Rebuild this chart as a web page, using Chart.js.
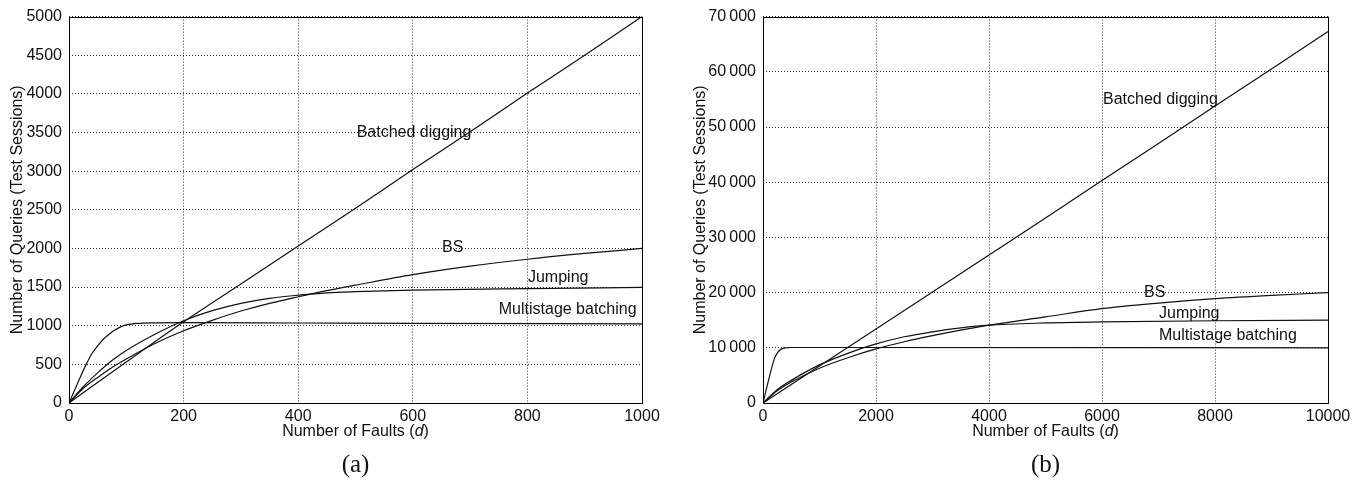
<!DOCTYPE html>
<html>
<head>
<meta charset="utf-8">
<script src="https://cdn.jsdelivr.net/npm/chart.js@4"></script>
<style>
  html, body { margin: 0; padding: 0; background: #fff; }
  #wrap { position: relative; width: 1366px; height: 480px; overflow: hidden; }
  canvas { position: absolute; top: 0; }
</style>
</head>
<body>
<div id="wrap">
  <canvas id="chartA" width="683" height="480" style="left:0"></canvas>
  <canvas id="chartB" width="683" height="480" style="left:683px"></canvas>
</div>
<script>
// ---------- Panel (a) data ----------
const aBatchedX = [0, 100, 200, 300, 400, 500, 600, 700, 800, 900, 1000];
const aBatchedY = [0, 530, 1050, 1540, 2030, 2520, 3020, 3510, 4010, 4500, 5000];
const aBSX = [0, 25, 50, 75, 100, 150, 200, 250, 300, 350, 400, 450, 500, 600, 700, 800, 900, 1000];
const aBSY = [0, 190, 330, 460, 570, 770, 935, 1070, 1190, 1290, 1375, 1455, 1525, 1660, 1770, 1860, 1935, 2000];
const aJumpX = [0, 25, 50, 75, 100, 150, 200, 250, 300, 350, 400, 450, 500, 600, 800, 1000];
const aJumpY = [0, 210, 390, 550, 680, 890, 1065, 1195, 1290, 1355, 1395, 1425, 1440, 1460, 1480, 1495];
const aMultiX = [0, 10, 20, 30, 40, 50, 60, 70, 80, 90, 100, 120, 150, 200, 400, 600, 1000];
const aMultiY = [0, 170, 340, 500, 640, 740, 825, 890, 945, 985, 1010, 1030, 1038, 1040, 1035, 1030, 1025];
const aXTicks = [0, 200, 400, 600, 800, 1000];
const aYTicks = [0, 500, 1000, 1500, 2000, 2500, 3000, 3500, 4000, 4500, 5000];

// ---------- Panel (b) data ----------
const bBatchedX = [0, 1000, 2000, 3000, 4000, 5000, 6000, 7000, 8000, 9000, 10000];
const bBatchedY = [0, 6700, 13400, 20100, 26800, 33500, 40300, 47000, 53800, 60500, 67300];
const bBSX = [0, 250, 500, 1000, 1500, 2000, 2500, 3000, 3500, 4000, 5000, 6000, 7000, 8000, 9000, 10000];
const bBSY = [0, 2200, 3800, 6300, 8200, 9800, 11100, 12200, 13200, 14100, 15600, 17100, 18100, 18900, 19500, 20000];
const bJumpX = [0, 250, 500, 1000, 1500, 2000, 2500, 3000, 3500, 4000, 5000, 6000, 8000, 10000];
const bJumpY = [0, 2400, 4100, 6900, 9000, 10700, 12000, 12900, 13600, 14100, 14500, 14700, 14900, 15000];
const bMultiX = [0, 100, 200, 250, 300, 350, 400, 500, 1000, 10000];
const bMultiY = [0, 4200, 8000, 9000, 9600, 9900, 10000, 10050, 10050, 10000];
const bXTicks = [0, 2000, 4000, 6000, 8000, 10000];
const bYTicks = [0, 10000, 20000, 30000, 40000, 50000, 60000, 70000];

const seriesNames = ['Batched digging', 'BS', 'Jumping', 'Multistage batching'];

function pts(xs, ys) { return xs.map((x, i) => ({ x: x, y: ys[i] })); }

const FONT = '"Liberation Sans", Arial, Helvetica, sans-serif';
const SERIF = '"Liberation Serif", "Times New Roman", serif';
const INK = '#111';

const panelPlugin = {
  id: 'panelDecor',
  afterDraw(chart, args, opts) {
    const ctx = chart.ctx;
    const a = chart.chartArea;
    const xs = chart.scales.x, ys = chart.scales.y;
    ctx.save();
    // frame
    ctx.strokeStyle = '#000';
    ctx.lineWidth = 1;
    ctx.setLineDash([]);
    ctx.strokeRect(Math.round(a.left) + 0.5, Math.round(a.top) + 0.5,
                   Math.round(a.right - a.left), Math.round(a.bottom - a.top));
    // curve labels
    ctx.fillStyle = INK;
    ctx.font = '16px ' + FONT;
    ctx.textAlign = 'left';
    ctx.textBaseline = 'middle';
    opts.labels.forEach(l => {
      ctx.fillText(l.text, xs.getPixelForValue(l.x), ys.getPixelForValue(l.y));
    });
    // x-axis title with italic d
    const cx = (a.left + a.right) / 2;
    const ty = opts.xTitleY;
    const p1 = 'Number of Faults (', p2 = 'd', p3 = ')';
    ctx.font = '16px ' + FONT;
    const w1 = ctx.measureText(p1).width, w3 = ctx.measureText(p3).width;
    ctx.font = 'italic 16px ' + FONT;
    const w2 = ctx.measureText(p2).width;
    let x0 = cx - (w1 + w2 + w3) / 2;
    ctx.font = '16px ' + FONT;
    ctx.fillText(p1, x0, ty);
    ctx.font = 'italic 16px ' + FONT;
    ctx.fillText(p2, x0 + w1, ty);
    ctx.font = '16px ' + FONT;
    ctx.fillText(p3, x0 + w1 + w2, ty);
    // caption
    ctx.font = '25px ' + SERIF;
    ctx.textAlign = 'center';
    ctx.fillText(opts.caption, cx, opts.captionY);
    ctx.restore();
  }
};

function makePanel(id, cfg) {
  const datasets = cfg.series.map((s, i) => ({
    label: seriesNames[i],
    data: pts(s[0], s[1]),
    showLine: true,
    borderColor: INK,
    borderWidth: 1.2,
    pointRadius: 0,
    fill: false,
    cubicInterpolationMode: 'monotone'
  }));
  new Chart(document.getElementById(id), {
    type: 'scatter',
    data: { datasets },
    plugins: [panelPlugin],
    options: {
      responsive: false,
      devicePixelRatio: 1,
      animation: false,
      layout: { padding: { top: 14, right: cfg.padRight, bottom: 0, left: 0 } },
      plugins: {
        legend: { display: false },
        tooltip: { enabled: false },
        panelDecor: { labels: cfg.labels, caption: cfg.caption, xTitleY: 432, captionY: 465 }
      },
      scales: {
        x: {
          type: 'linear',
          min: cfg.xTicks[0], max: cfg.xTicks[cfg.xTicks.length - 1],
          afterBuildTicks: s => { s.ticks = cfg.xTicks.map(v => ({ value: v })); },
          afterFit: s => { s.height = 77; },
          ticks: { color: INK, font: { family: FONT, size: 16 }, padding: 4, maxRotation: 0,
                   callback: v => String(v) },
          grid: { color: '#333', lineWidth: 1, drawTicks: false },
          border: { display: false, dash: [1, 2] }
        },
        y: {
          type: 'linear',
          min: cfg.yTicks[0], max: cfg.yTicks[cfg.yTicks.length - 1],
          afterBuildTicks: s => { s.ticks = cfg.yTicks.map(v => ({ value: v })); },
          afterFit: s => { s.width = cfg.yAxisWidth; },
          ticks: { color: INK, font: { family: FONT, size: 16 }, padding: 7, callback: cfg.yFmt },
          grid: { color: '#333', lineWidth: 1, drawTicks: false },
          border: { display: false, dash: [1, 2] },
          title: { display: true, text: 'Number of Queries (Test Sessions)', color: INK,
                   font: { family: FONT, size: 16 }, padding: { top: 8, bottom: 0 } }
        }
      }
    }
  });
}

makePanel('chartA', {
  series: [[aBatchedX, aBatchedY], [aBSX, aBSY], [aJumpX, aJumpY], [aMultiX, aMultiY]],
  xTicks: aXTicks, yTicks: aYTicks,
  yAxisWidth: 69, padRight: 41,
  yFmt: v => String(v),
  caption: '(a)',
  labels: [
    { text: 'Batched digging', x: 502, y: 3500 },
    { text: 'BS', x: 651, y: 2005 },
    { text: 'Jumping', x: 801, y: 1620 },
    { text: 'Multistage batching', x: 750, y: 1208 }
  ]
});

makePanel('chartB', {
  series: [[bBatchedX, bBatchedY], [bBSX, bBSY], [bJumpX, bJumpY], [bMultiX, bMultiY]],
  xTicks: bXTicks, yTicks: bYTicks,
  yAxisWidth: 80, padRight: 38,
  yFmt: v => v >= 10000 ? String(Math.floor(v / 1000)) + '\u2009' + String(v % 1000).padStart(3, '0') : String(v),
  caption: '(b)',
  labels: [
    { text: 'Batched digging', x: 6018, y: 55000 },
    { text: 'BS', x: 6743, y: 20000 },
    { text: 'Jumping', x: 7009, y: 16200 },
    { text: 'Multistage batching', x: 7009, y: 12240 }
  ]
});
</script>
</body>
</html>
